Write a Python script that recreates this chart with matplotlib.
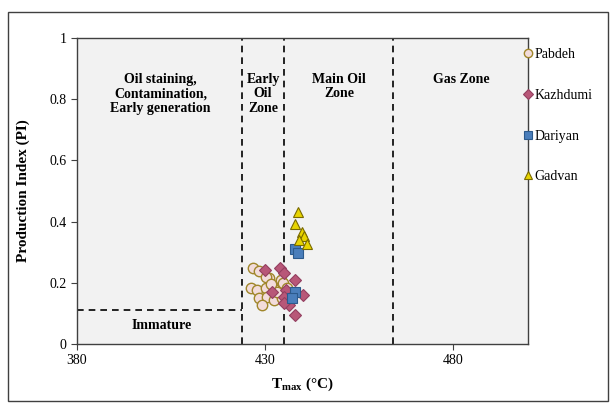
import matplotlib
matplotlib.use("Agg")
import matplotlib.pyplot as plt
from matplotlib.patches import Rectangle

plt.rcParams['font.family'] = ['Liberation Serif', 'DejaVu Serif']
plt.rcParams['mathtext.fontset'] = 'custom'
plt.rcParams['mathtext.rm'] = 'Liberation Serif'
plt.rcParams['mathtext.bf'] = 'Liberation Serif:bold'
plt.rcParams['mathtext.it'] = 'Liberation Serif:italic'

# Data
pabdeh_tmax = [426.9, 428.5, 431.1, 430.2, 426.4, 428.0, 430.2, 432.4, 434.2, 434.9,
               428.4, 430.6, 432.4, 434.6, 429.3, 433.3, 436.0, 431.5]
pabdeh_pi = [0.249, 0.240, 0.215, 0.218, 0.182, 0.176, 0.182, 0.180, 0.209, 0.198,
             0.149, 0.155, 0.144, 0.149, 0.127, 0.171, 0.182, 0.195]
kazhdumi_tmax = [429.9, 434.0, 435.1, 438.0, 432.0, 435.5, 435.1, 440.0, 436.4, 435.1, 438.0]
kazhdumi_pi = [0.242, 0.249, 0.233, 0.209, 0.171, 0.176, 0.155, 0.160, 0.127, 0.133, 0.095]
dariyan_tmax = [437.9, 438.9, 438.0, 437.1]
dariyan_pi = [0.309, 0.296, 0.171, 0.149]
gadvan_tmax = [438.9, 437.9, 439.9, 440.3, 439.1, 441.1]
gadvan_pi = [0.432, 0.391, 0.367, 0.353, 0.339, 0.326]

zone_bounds = [424, 435, 464]
immature_pi = 0.11
x_ticks = [380, 430, 480]
y_ticks = [0, 0.2, 0.4, 0.6, 0.8, 1]
y_ticklabels = ['0', '0.2', '0.4', '0.6', '0.8', '1']

fig = plt.figure(figsize=(6.11, 4.03), dpi=100)
W, H = 611, 403
ax = fig.add_axes([77 / W, 1 - 344 / H, (528 - 77) / W, (344 - 38) / H])
ax.set_facecolor('#F2F2F2')

fig.patches.append(Rectangle((8 / W, 1 - 401 / H), (608 - 8) / W, (401 - 12) / H,
                             transform=fig.transFigure, fill=False,
                             edgecolor='#404040', linewidth=1.0))

ax.set_xlim(380, 500)
ax.set_ylim(0, 1)
ax.set_xticks(x_ticks)
ax.set_yticks(y_ticks)
ax.set_yticklabels(y_ticklabels)
ax.tick_params(labelsize=10, direction='out', length=4, color='#404040', width=0.8)
for s in ax.spines.values():
    s.set_color('#404040')
    s.set_linewidth(1.0)

for xb in zone_bounds:
    ax.plot([xb, xb], [0, 1], color='black', linestyle=(0, (4, 3)), linewidth=1.2, zorder=1)
ax.plot([380, zone_bounds[0]], [immature_pi, immature_pi], color='black',
        linestyle=(0, (4, 3)), linewidth=1.2, zorder=1)

ax.plot(pabdeh_tmax, pabdeh_pi, 'o', markersize=7.5, markerfacecolor='#F2DCDB',
        markeredgecolor='#A0862A', markeredgewidth=1.0, label='Pabdeh', zorder=3)
ax.plot(kazhdumi_tmax, kazhdumi_pi, 'D', markersize=6, markerfacecolor='#B85778',
        markeredgecolor='#943F60', markeredgewidth=0.8, label='Kazhdumi', zorder=4)
ax.plot(dariyan_tmax, dariyan_pi, 's', markersize=6.5, markerfacecolor='#4A7EBB',
        markeredgecolor='#2C5A8C', markeredgewidth=0.8, label='Dariyan', zorder=5)
ax.plot(gadvan_tmax, gadvan_pi, '^', markersize=7.5, markerfacecolor='#E8D400',
        markeredgecolor='#7A6A00', markeredgewidth=0.8, label='Gadvan', zorder=6)

tkw = dict(ha='center', va='top', fontsize=10, fontweight='bold', linespacing=1.15)
ax.text(402.2, 0.887, 'Oil staining,\nContamination,\nEarly generation', **tkw)
ax.text(429.5, 0.887, 'Early\nOil\nZone', **tkw)
ax.text(449.7, 0.887, 'Main Oil\nZone', **tkw)
ax.text(482.2, 0.887, 'Gas Zone', **tkw)
ax.text(402.4, 0.059, 'Immature', ha='center', va='center', fontsize=10, fontweight='bold')

ax.set_xlabel(r'T$_{\mathbf{max}}$ (°C)', fontsize=11, fontweight='bold', labelpad=6)
ax.set_ylabel('Production Index (PI)', fontsize=11, fontweight='bold', labelpad=14)

leg = fig.legend(loc='upper left', bbox_to_anchor=(524 / W, 1 - 48 / H), frameon=False,
                 fontsize=10, handlelength=0.6, handletextpad=0.15, labelspacing=2.0,
                 borderaxespad=0, borderpad=0, markerscale=0.8)

fig.savefig('out.png', dpi=100)
